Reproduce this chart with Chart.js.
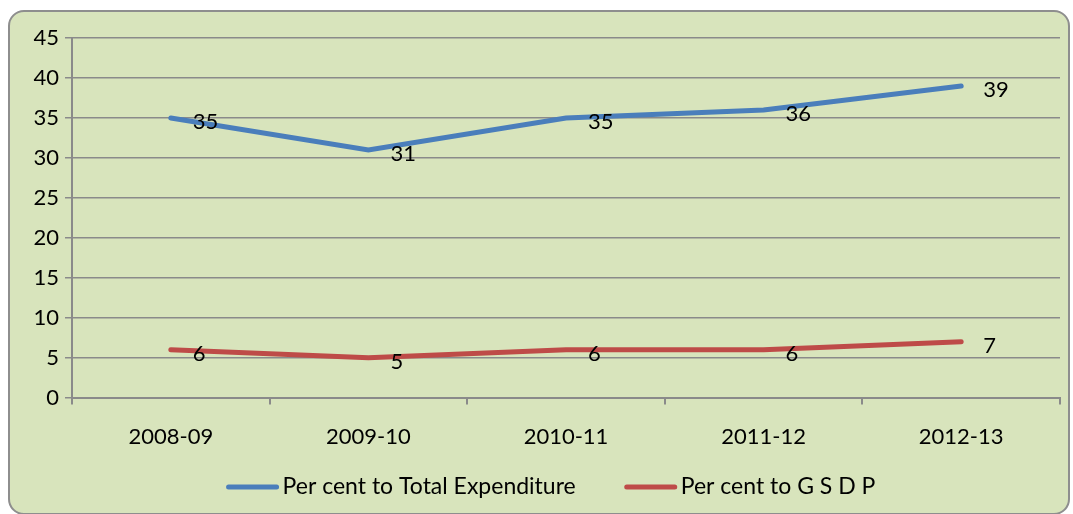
<!DOCTYPE html>
<html>
<head>
<meta charset="utf-8">
<script src="https://cdn.jsdelivr.net/npm/chart.js@4.4.1/dist/chart.umd.min.js"></script>
<style>
  html, body { margin: 0; padding: 0; background: #ffffff; }
  #frame {
    position: absolute;
    left: 8px;
    top: 10px;
    width: 1058px;
    height: 501px;
    border: 2px solid #8e8e8e;
    border-radius: 16px;
    background: #d8e4bc;
    overflow: hidden;
  }
  #chart { display: block; }
</style>
</head>
<body>
<div id="frame"><canvas id="chart" width="1058" height="501"></canvas></div>
<script>
// share of spending by year
const years = ['2008-09', '2009-10', '2010-11', '2011-12', '2012-13'];
const pctTotalExpenditure = [35, 31, 35, 36, 39];
const pctGSDP = [6, 5, 6, 6, 7];
const yTicks = [0, 5, 10, 15, 20, 25, 30, 35, 40, 45];

const FONT = { family: "'Lato', 'Open Sans', sans-serif", size: 22 };
const LEGEND_FONT = { family: FONT.family, size: 23 };
const GRID = '#8a8a8a';
const BLUE = '#4a7ebb';
const RED = '#be4b48';

// Excel-style value labels, placed to the right of each point
const pointLabels = {
  id: 'pointLabels',
  afterDatasetsDraw(chart) {
    const ctx = chart.ctx;
    ctx.save();
    ctx.font = `${FONT.size}px ${FONT.family}`;
    ctx.fillStyle = '#000000';
    ctx.textAlign = 'left';
    ctx.textBaseline = 'middle';
    chart.data.datasets.forEach((ds, i) => {
      chart.getDatasetMeta(i).data.forEach((pt, j) => {
        ctx.fillText(String(ds.data[j]), pt.x + 22, pt.y + 4);
      });
    });
    ctx.restore();
  },
};

// bottom legend: long line swatch with the text right next to it
const lineLegend = {
  id: 'lineLegend',
  afterDraw(chart) {
    const ctx = chart.ctx;
    const swatch = 52, gapText = 4, gapItem = 49;
    const y = 475;
    ctx.save();
    ctx.font = `${LEGEND_FONT.size}px ${LEGEND_FONT.family}`;
    const items = chart.data.datasets.map((ds) => ({
      ds, w: ctx.measureText(ds.label).width,
    }));
    const total = items.reduce((s, it) => s + swatch + gapText + it.w, 0) + gapItem * (items.length - 1);
    let x = 541 - total / 2;
    items.forEach(({ ds, w }) => {
      ctx.strokeStyle = ds.borderColor;
      ctx.lineWidth = 5;
      ctx.lineCap = 'round';
      ctx.beginPath();
      ctx.moveTo(x + 2, y);
      ctx.lineTo(x + swatch - 2, y);
      ctx.stroke();
      ctx.fillStyle = '#000000';
      ctx.textAlign = 'left';
      ctx.textBaseline = 'middle';
      ctx.fillText(ds.label, x + swatch + gapText, y);
      x += swatch + gapText + w + gapItem;
    });
    ctx.restore();
  },
};

new Chart(document.getElementById('chart'), {
  type: 'line',
  data: {
    labels: years,
    datasets: [
      {
        label: 'Per cent to Total Expenditure',
        data: pctTotalExpenditure,
        borderColor: BLUE,
        backgroundColor: BLUE,
        borderWidth: 5,
        borderCapStyle: 'round',
        pointRadius: 0,
        tension: 0,
      },
      {
        label: 'Per cent to G S D P',
        data: pctGSDP,
        borderColor: RED,
        backgroundColor: RED,
        borderWidth: 5,
        borderCapStyle: 'round',
        pointRadius: 0,
        tension: 0,
      },
    ],
  },
  options: {
    responsive: false,
    animation: false,
    layout: { padding: { left: 0, right: 8, top: 26, bottom: 44 } },
    plugins: {
      tooltip: { enabled: false },
      legend: { display: false },
    },
    scales: {
      x: {
        offset: true,
        grid: {
          offset: true,
          drawOnChartArea: false,
          drawTicks: true,
          tickLength: 7,
          color: GRID,
          lineWidth: 2,
        },
        border: { color: GRID, width: 2 },
        ticks: { color: '#000000', font: FONT, padding: 19, maxRotation: 0 },
      },
      y: {
        min: 0,
        max: 45,
        afterFit: (scale) => { scale.width = 62; },
        afterBuildTicks: (scale) => { scale.ticks = yTicks.map((v) => ({ value: v })); },
        grid: { color: GRID, lineWidth: 1.5, tickLength: 7 },
        border: { color: GRID, width: 2 },
        ticks: { color: '#000000', font: FONT, padding: 6 },
      },
    },
  },
  plugins: [pointLabels, lineLegend],
});
</script>
</body>
</html>
